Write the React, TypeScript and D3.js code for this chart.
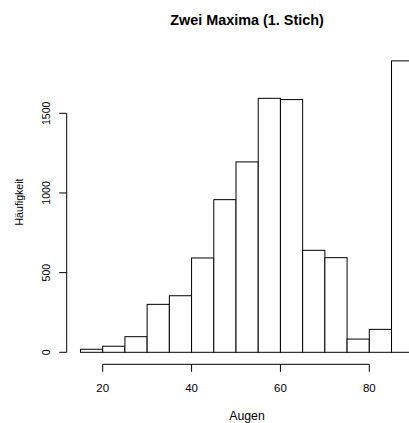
import React from "react";
import * as d3 from "d3";

const breaks = [15, 20, 25, 30, 35, 40, 45, 50, 55, 60, 65, 70, 75, 80, 85, 90];
const counts = [19, 38, 98, 301, 355, 592, 958, 1195, 1594, 1586, 640, 594, 83, 144, 1829];
const xTicks = [20, 40, 60, 80];
const yTicks = [0, 500, 1000, 1500];
const title = "Zwei Maxima (1. Stich)";
const xLabel = "Augen";
const yLabel = "Häufigkeit";

const W = 409;
const H = 423;

export default function App() {
  const x = d3.scaleLinear().domain([20, 80]).range([102.7, 369.3]);
  const y = d3.scaleLinear().domain([0, 1500]).range([352.3, 113.3]);
  const font = "'Liberation Sans', Arial, Helvetica, sans-serif";
  const axisY = 66.7;
  const xAxisY = 364.3;
  const cx = 247;
  return (
    <svg width={W} height={H} style={{ position: "fixed", left: 0, top: 0, background: "#fff" }} fontFamily={font}>
      <rect x={0} y={0} width={W} height={H} fill="#fff" />
      <text x={cx} y={25} textAnchor="middle" fontWeight="bold" fontSize={14.4}>{title}</text>
      {counts.map((c, i) => (
        <rect key={i} x={x(breaks[i])} y={y(c)} width={x(breaks[i + 1]) - x(breaks[i])} height={y(0) - y(c)}
          fill="#fff" stroke="#000" strokeWidth={1} />
      ))}
      <line x1={axisY} x2={axisY} y1={y(0)} y2={y(1500)} stroke="#000" />
      {yTicks.map((t) => (
        <g key={t}>
          <line x1={axisY - 7.5} x2={axisY} y1={y(t)} y2={y(t)} stroke="#000" />
          <text transform={`translate(50,${y(t)}) rotate(-90)`} textAnchor="middle" fontSize={10.5}>{t}</text>
        </g>
      ))}
      <line x1={x(20)} x2={x(80)} y1={xAxisY} y2={xAxisY} stroke="#000" />
      {xTicks.map((t) => (
        <g key={t}>
          <line x1={x(t)} x2={x(t)} y1={xAxisY} y2={xAxisY + 7.5} stroke="#000" />
          <text x={x(t)} y={391.5} textAnchor="middle" fontSize={11.5}>{t}</text>
        </g>
      ))}
      <text x={cx} y={420} textAnchor="middle" fontSize={12.3}>{xLabel}</text>
      <text transform={`translate(23,202) rotate(-90)`} fontSize={10.6} textAnchor="middle">{yLabel}</text>
    </svg>
  );
}
